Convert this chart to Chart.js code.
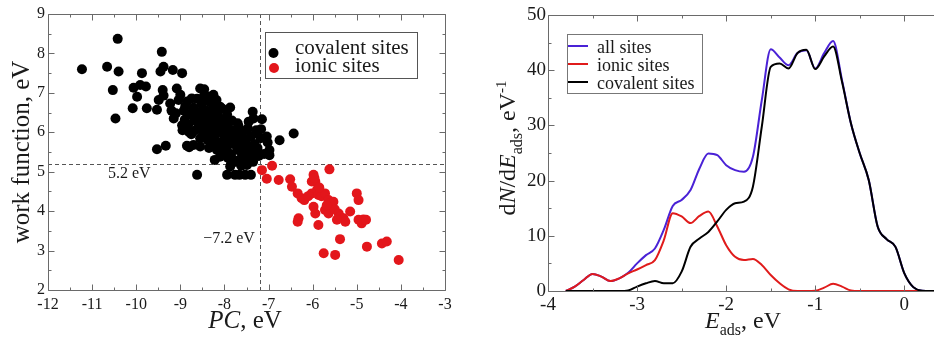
<!DOCTYPE html>
<html>
<head>
<meta charset="utf-8">
<script src="https://cdn.jsdelivr.net/npm/chart.js@4.4.1/dist/chart.umd.min.js"></script>
<style>
  html, body { margin: 0; padding: 0; background: #fff; overflow: hidden; }
  #wrap { position: relative; width: 934px; height: 343px; overflow: hidden; }
  #pc { position: absolute; left: 0; top: 0; }
  #dos { position: absolute; left: 470px; top: 0; }
</style>
</head>
<body>
<div id="wrap">
  <canvas id="pc" width="470" height="343"></canvas>
  <canvas id="dos" width="470" height="343"></canvas>
</div>
<script>
// ---- left panel: work function vs PC ----
const covalentPts = [
  [-11.23,7.60],[-10.66,7.66],[-10.42,8.37],[-10.40,7.54],[-10.53,7.07],[-10.47,6.35],
  [-10.08,6.61],[-10.06,7.13],[-9.98,6.90],[-9.87,7.50],[-9.91,7.20],[-9.78,7.16],
  [-9.76,6.61],[-9.53,6.57],[-9.49,6.82],[-9.53,5.57],[-9.33,5.66],[-9.42,8.04],
  [-9.45,7.54],[-9.38,7.66],[-9.40,7.07],[-9.38,6.93],[-9.17,7.58],[-8.96,7.50],
  [-9.08,7.11],[-9.23,6.73],[-9.10,6.48],[-9.15,6.35],[-8.96,6.18],[-8.85,5.66],
  [-8.70,5.68],[-8.62,4.92],[-9.04,6.82],[-8.89,6.65],[-8.74,6.86],
  [-8.55,7.11],[-8.46,7.09],[-8.32,6.90],[-8.25,6.95],[-8.10,6.65],[-8.47,6.90],
  [-7.87,6.63],[-7.36,6.52],[-7.34,6.35],[-7.15,6.33],[-7.17,6.08],[-7.26,5.97],
  [-7.04,5.89],[-7.02,5.74],[-6.75,5.80],[-6.43,5.97],[-7.10,5.45],[-6.98,5.42],
  [-7.22,5.40],[-7.34,5.37],[-7.45,5.30],[-7.49,5.17],[-7.57,5.38],[-7.66,5.55],
  [-7.60,5.89],[-7.49,6.06],[-7.45,6.27],[-7.70,6.23],[-7.79,5.30],[-7.87,5.13],
  [-7.76,4.92],[-7.66,4.92],[-7.53,4.92],[-7.40,4.92],[-7.94,4.92],
  [-8.10,5.38],[-8.17,5.55],[-8.25,5.72],[-8.55,5.64],
  [-8.95,6.05],[-8.90,6.32],[-8.92,6.55],[-8.85,6.78],[-8.82,6.20],[-8.78,6.45],
  [-8.75,5.95],[-8.70,6.62],[-8.68,6.30],[-8.66,6.05],[-8.62,6.85],[-8.60,6.50],
  [-8.57,6.18],[-8.55,5.85],[-8.52,6.72],[-8.50,6.38],[-8.48,6.02],[-8.45,6.95],
  [-8.42,6.55],[-8.40,6.25],[-8.38,5.80],[-8.36,6.78],[-8.33,6.40],[-8.30,6.10],
  [-8.28,5.65],[-8.26,6.62],[-8.24,6.30],[-8.20,5.95],[-8.18,6.82],[-8.16,6.48],
  [-8.14,6.15],[-8.12,5.75],[-8.10,6.35],[-8.08,5.50],[-8.05,6.60],[-8.03,6.05],
  [-8.00,5.85],[-7.98,6.25],[-7.96,5.60],[-7.94,6.45],[-7.92,5.35],[-7.90,6.10],
  [-7.88,5.90],[-7.85,5.45],[-7.83,6.30],[-7.80,5.70],[-7.78,6.05],[-7.75,5.25],
  [-7.72,5.90],[-7.70,5.55],[-7.68,6.15],[-7.65,5.75],[-7.62,5.35],[-7.60,6.00],
  [-7.58,5.60],[-7.55,5.20],[-7.52,5.80],[-7.50,5.45],[-7.47,6.10],[-7.44,5.65],
  [-7.42,5.30],[-7.40,5.90],[-7.38,5.50],[-7.35,5.25],[-7.32,5.70],[-7.30,5.45],
  [-7.28,6.05],[-8.60,6.10],[-8.45,6.15],[-8.35,6.00],[-8.25,5.85],[-8.15,6.00],
  [-8.05,5.70],[-7.95,5.75],[-8.50,6.55],[-8.30,6.55],[-8.20,6.40],[-8.10,6.20],
  [-8.00,6.05],[-7.90,5.95],[-7.80,5.85],[-7.70,5.70],[-8.70,6.40],[-8.80,6.00],
  [-8.40,5.95],[-7.98,5.45],[-7.85,5.20],[-7.62,5.15],[-8.22,5.30],[-8.35,5.60],
  [-9.20,6.55],[-9.00,6.95],[-8.80,5.62],[-7.25,5.60],[-7.18,5.85],[-6.98,5.55]
];
const ionicPts = [
  [-7.15,5.04],[-6.92,5.15],[-7.04,4.82],[-6.77,4.79],[-6.51,4.81],[-6.47,4.62],
  [-6.34,4.45],[-6.25,4.33],[-6.19,4.28],[-6.32,3.82],[-6.34,3.73],[-6.02,4.45],
  [-5.98,4.92],[-5.94,4.75],[-6.02,4.75],[-5.96,4.84],[-5.90,4.54],[-5.87,4.41],
  [-5.83,4.49],[-5.80,4.38],[-5.98,4.11],[-5.94,3.94],[-5.87,3.65],[-5.72,4.45],
  [-5.64,4.28],[-5.60,4.20],[-5.56,4.11],[-5.72,4.03],[-5.64,3.94],[-5.62,5.06],
  [-5.53,4.24],[-5.50,4.05],[-5.41,3.94],[-5.38,3.86],[-5.30,3.82],[-5.26,3.73],
  [-5.45,3.78],[-5.15,3.99],[-5.75,2.93],[-5.49,2.89],[-5.38,3.29],[-5.00,4.45],
  [-4.96,4.28],[-4.96,3.78],[-4.89,3.69],[-4.85,3.79],[-4.79,3.78],[-4.77,3.10],
  [-4.43,3.18],[-4.32,3.23],[-4.05,2.76],[-5.85,4.60],[-5.68,4.15],[-6.10,4.38]
];
const pcThreshold = -7.2;
const wfThreshold = 5.2;

// ---- right panel: adsorption energy distribution ----
const energies = [
  -3.8,-3.7,-3.6,-3.5,-3.4,-3.3,-3.2,-3.1,-3.0,-2.9,-2.8,-2.7,-2.6,-2.5,-2.4,-2.3,
  -2.2,-2.1,-2.0,-1.9,-1.8,-1.7,-1.6,-1.5,-1.4,-1.3,-1.2,-1.1,-1.0,-0.9,-0.8,-0.7,
  -0.6,-0.5,-0.4,-0.3,-0.2,-0.1,0.0,0.1,0.2,0.3,0.4
];
const allSites = [
  0,0.8,2.0,3.1,2.6,1.8,2.3,3.3,5.0,6.5,7.7,11.1,15.4,16.5,18.3,22.2,
  24.9,24.6,22.8,21.9,21.6,24.3,34.6,43.8,42.3,40.9,43.1,43.6,40.3,43.1,45.3,38.2,
  30.4,24.9,20.1,11.7,9.4,8.0,3.2,0.7,0.05,0,0
];
const ionicSites = [
  0,0.8,2.0,3.1,2.6,1.8,2.3,3.2,3.9,4.7,5.6,9.2,14.1,13.5,12.3,13.6,
  14.4,11.7,8.3,6.2,5.6,5.8,4.7,2.9,1.4,0.3,0,0,0.05,0.6,1.3,0.8,
  0.1,0,0,0,0,0,0,0,0,0,0
];
const covalentSites = [
  0,0,0,0,0,0,0,0.1,0.8,1.4,1.8,1.4,1.4,3.5,8.0,9.5,
  10.7,12.6,14.7,15.9,16.2,18.9,29.8,40.6,41.2,40.3,43.1,43.7,40.2,42.5,44.3,37.9,
  30.4,24.9,20.1,11.7,9.4,8.0,3.2,0.7,0.05,0,0
];

const SERIF = '"Liberation Serif", "DejaVu Serif", serif';
const INK = '#1a1a1a';
const FRAME = '#6a6a6a';

// parts: [text, size, style, dy]
function richText(ctx, parts, x, y, angle) {
  ctx.save();
  ctx.translate(x, y);
  ctx.rotate(angle);
  ctx.fillStyle = INK;
  ctx.textAlign = 'left';
  ctx.textBaseline = 'alphabetic';
  let total = 0;
  parts.forEach(p => { ctx.font = (p[2] || '') + ' ' + p[1] + 'px ' + SERIF; total += ctx.measureText(p[0]).width; });
  let cx = -total / 2;
  parts.forEach(p => {
    ctx.font = (p[2] || '') + ' ' + p[1] + 'px ' + SERIF;
    ctx.fillText(p[0], cx, p[3] || 0);
    cx += ctx.measureText(p[0]).width;
  });
  ctx.restore();
}

function isMajor(v, step) {
  return Math.abs(v / step - Math.round(v / step)) < 1e-6;
}

// xmgrace-like box with inward ticks on all four sides
function makeFrame(xStep, xMinor, yStep, yMinor) {
  return {
    id: 'frame',
    afterDatasetsDraw(chart) {
      const { ctx, chartArea: a } = chart;
      const sx = chart.scales.x, sy = chart.scales.y;
      const bottom = Math.round(a.bottom) + 0.5, top = Math.round(a.top) + 0.5;
      const left = Math.round(a.left) + 0.5, right = Math.round(a.right) + 0.5;
      ctx.save();
      ctx.setLineDash([]);
      ctx.strokeStyle = FRAME;
      ctx.lineWidth = 1;
      ctx.beginPath();
      for (let v = Math.ceil(sx.min / xMinor) * xMinor; v <= sx.max + 1e-9; v += xMinor) {
        const p = Math.round(sx.getPixelForValue(v)) + 0.5;
        const len = isMajor(v, xStep) ? 6 : 3;
        ctx.moveTo(p, bottom); ctx.lineTo(p, bottom - len);
        ctx.moveTo(p, top); ctx.lineTo(p, top + len);
      }
      for (let v = Math.ceil(sy.min / yMinor) * yMinor; v <= sy.max + 1e-9; v += yMinor) {
        const p = Math.round(sy.getPixelForValue(v)) + 0.5;
        const len = isMajor(v, yStep) ? 6 : 3;
        ctx.moveTo(left, p); ctx.lineTo(left + len, p);
        ctx.moveTo(right, p); ctx.lineTo(right - len, p);
      }
      ctx.rect(left, top, right - left, bottom - top);
      ctx.stroke();
      ctx.restore();
    }
  };
}

function tickFont(size) {
  return { family: SERIF, size: size };
}
const noGrid = { display: false, drawTicks: false };

// ---- left chart ----
new Chart(document.getElementById('pc'), {
  type: 'scatter',
  data: {
    datasets: [
      { label: 'covalent sites', data: covalentPts.map(p => ({ x: p[0], y: p[1] })),
        backgroundColor: '#000', borderWidth: 0, pointRadius: 5 },
      { label: 'ionic sites', data: ionicPts.map(p => ({ x: p[0], y: p[1] })),
        backgroundColor: '#e3161b', borderWidth: 0, pointRadius: 5 }
    ]
  },
  options: {
    responsive: false,
    animation: false,
    layout: { padding: { top: 14, right: 25, left: 0, bottom: 0 } },
    plugins: { legend: { display: false }, tooltip: { enabled: false } },
    scales: {
      x: {
        min: -12, max: -3,
        grid: noGrid, border: { display: false },
        ticks: { stepSize: 1, includeBounds: false, font: tickFont(16), color: INK, padding: 5, maxRotation: 0 },
        afterFit: s => { s.height = 53; }
      },
      y: {
        min: 2, max: 9,
        grid: noGrid, border: { display: false },
        ticks: { stepSize: 1, includeBounds: false, font: tickFont(16), color: INK, padding: 3 },
        afterFit: s => { s.width = 48; }
      }
    }
  },
  plugins: [makeFrame(1, 0.5, 1, 0.5), {
    id: 'pcDecor',
    beforeDatasetsDraw(chart) {
      const { ctx, chartArea: a, scales: { x, y } } = chart;
      const px = Math.round(x.getPixelForValue(pcThreshold)) + 0.5;
      const py = Math.round(y.getPixelForValue(wfThreshold)) + 0.5;
      ctx.save();
      ctx.strokeStyle = '#555';
      ctx.lineWidth = 1;
      ctx.setLineDash([4, 3]);
      ctx.beginPath();
      ctx.moveTo(px, a.top); ctx.lineTo(px, a.bottom);
      ctx.moveTo(a.left, py); ctx.lineTo(a.right, py);
      ctx.stroke();
      ctx.setLineDash([]);
      ctx.fillStyle = INK;
      ctx.font = '16px ' + SERIF;
      ctx.textAlign = 'left';
      ctx.fillText(wfThreshold + ' eV', x.getPixelForValue(-10.64), y.getPixelForValue(4.84));
      ctx.textAlign = 'right';
      ctx.fillText('\u2212' + Math.abs(pcThreshold) + ' eV', x.getPixelForValue(-7.31), y.getPixelForValue(3.19));
      ctx.restore();
    },
    afterDraw(chart) {
      const ctx = chart.ctx;
      ctx.save();
      // legend
      ctx.fillStyle = '#fff';
      ctx.fillRect(265, 32, 152, 46);
      ctx.strokeStyle = '#555';
      ctx.lineWidth = 1;
      ctx.strokeRect(265.5, 32.5, 152, 46);
      ctx.fillStyle = '#000';
      ctx.beginPath(); ctx.arc(273.5, 53, 5, 0, Math.PI * 2); ctx.fill();
      ctx.fillStyle = '#e3161b';
      ctx.beginPath(); ctx.arc(274, 68, 5, 0, Math.PI * 2); ctx.fill();
      ctx.fillStyle = INK;
      ctx.font = '21px ' + SERIF;
      ctx.textAlign = 'left';
      ctx.fillText('covalent sites', 295, 54);
      ctx.fillText('ionic sites', 295, 72);
      ctx.restore();
      richText(ctx, [['PC', 25, 'italic'], [', eV', 25]], 245, 328, 0);
      richText(ctx, [['work function, eV', 25]], 29, 152, -Math.PI / 2);
    }
  }]
});

// ---- right chart ----
const BLUE = '#4a22d6';
const RED = '#e01b1b';
new Chart(document.getElementById('dos'), {
  type: 'line',
  data: {
    datasets: [
      { label: 'all sites', data: allSites, borderColor: BLUE, order: 2 },
      { label: 'ionic sites', data: ionicSites, borderColor: RED, order: 1 },
      { label: 'covalent sites', data: covalentSites, borderColor: '#000', order: 0 }
    ].map(d => Object.assign(d, {
      data: d.data.map((v, i) => ({ x: energies[i], y: v })),
      borderWidth: 2, pointRadius: 0, fill: false, cubicInterpolationMode: 'monotone'
    }))
  },
  options: {
    responsive: false,
    animation: false,
    layout: { padding: { top: 15, right: 0, left: 0, bottom: 0 } },
    plugins: { legend: { display: false }, tooltip: { enabled: false } },
    scales: {
      x: {
        type: 'linear', min: -4, max: 0.4,
        grid: noGrid, border: { display: false },
        ticks: { stepSize: 1, includeBounds: false, font: tickFont(19), color: INK, padding: 3, maxRotation: 0 },
        afterFit: s => { s.height = 52; }
      },
      y: {
        min: 0, max: 50,
        grid: noGrid, border: { display: false },
        ticks: { stepSize: 10, includeBounds: false, font: tickFont(19), color: INK, padding: 2 },
        afterFit: s => { s.width = 78; }
      }
    }
  },
  plugins: [makeFrame(1, 0.5, 10, 5), {
    id: 'dosDecor',
    afterDraw(chart) {
      const ctx = chart.ctx;
      ctx.save();
      ctx.fillStyle = '#fff';
      ctx.fillRect(97, 34, 135, 59);
      ctx.strokeStyle = '#777';
      ctx.lineWidth = 1;
      ctx.strokeRect(97.5, 34.5, 135, 59);
      const rows = [['all sites', BLUE, 46], ['ionic sites', RED, 64], ['covalent sites', '#000', 82]];
      ctx.font = '18px ' + SERIF;
      ctx.textAlign = 'left';
      rows.forEach(r => {
        ctx.strokeStyle = r[1];
        ctx.lineWidth = 2;
        ctx.beginPath(); ctx.moveTo(98, r[2]); ctx.lineTo(118, r[2]); ctx.stroke();
        ctx.fillStyle = INK;
        ctx.fillText(r[0], 127, r[2] + 7);
      });
      ctx.restore();
      richText(ctx, [['E', 24, 'italic'], ['ads', 16, '', 7], [', eV', 24]], 273, 328, 0);
      richText(ctx, [['d', 24], ['N', 24, 'italic'], ['/d', 24], ['E', 24, 'italic'], ['ads', 16, '', 7],
        [', eV', 24], ['-1', 15, '', -9]], 45, 148, -Math.PI / 2);
    }
  }]
});
</script>
</body>
</html>
